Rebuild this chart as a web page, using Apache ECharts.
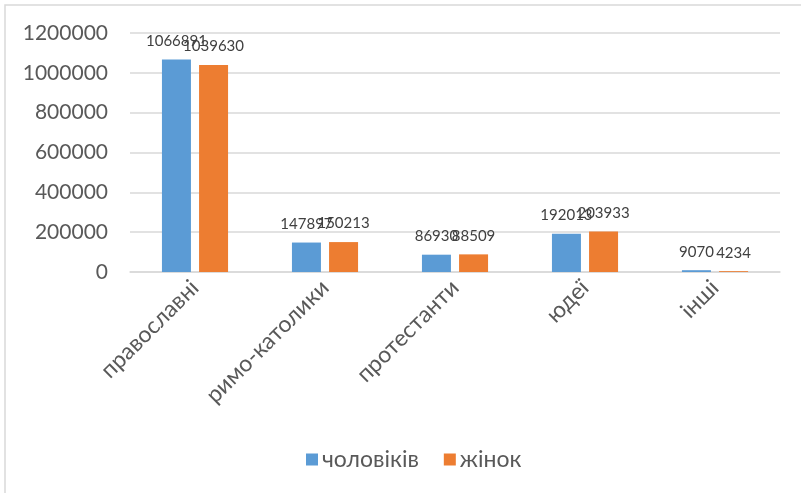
<!DOCTYPE html>
<html>
<head>
<meta charset="utf-8">
<script src="https://cdn.jsdelivr.net/npm/echarts@6/dist/echarts.min.js"></script>
<style>html,body{margin:0;padding:0;background:#fff;}#c{width:801px;height:493px;}</style>
</head>
<body>
<div id="c"></div>
<script>
const categories = ['православні', 'римо-католики', 'протестанти', 'юдеї', 'інші'];
const seriesNames = ['чоловіків', 'жінок'];
const men = [1066891, 147897, 86930, 192013, 9070];
const women = [1039630, 150213, 88509, 203933, 4234];
const yTicks = { min: 0, max: 1200000, interval: 200000 };

const chart = echarts.init(document.getElementById('c'), null, { renderer: 'canvas' });
const FONT = 'Lato, "Open Sans", sans-serif';
const labelOpt = {
  show: true, position: 'top', distance: 11,
  color: '#404040', fontSize: 15, fontFamily: FONT
};
chart.setOption({
  animation: false,
  backgroundColor: '#fff',
  graphic: [{
    type: 'rect', shape: { x: 5, y: 5, width: 1000, height: 800 },
    style: { fill: 'none', stroke: '#d9d9d9', lineWidth: 1.5 }, silent: true
  }],
  grid: { left: 130, right: 21, top: 33, height: 239, containLabel: false },
  legend: {
    data: seriesNames, top: 443, left: 301,
    itemWidth: 12, itemHeight: 12, itemGap: 25,
    icon: 'rect',
    textStyle: { color: '#595959', fontSize: 23, fontFamily: FONT, padding: [0, 0, 0, -1] }
  },
  xAxis: {
    type: 'category', data: categories,
    axisLine: { show: true, lineStyle: { color: '#d9d9d9', width: 1.5 } },
    axisTick: { show: false },
    axisLabel: { rotate: 45, margin: 12, color: '#595959', fontSize: 23, fontFamily: FONT, interval: 0 }
  },
  yAxis: {
    type: 'value', min: yTicks.min, max: yTicks.max, interval: yTicks.interval,
    axisLine: { show: false }, axisTick: { show: false },
    splitLine: { lineStyle: { color: '#d9d9d9', width: 1.5 } },
    axisLabel: { margin: 22, color: '#595959', fontSize: 21, fontFamily: FONT,
      formatter: v => String(v) }
  },
  series: [
    { name: seriesNames[0], type: 'bar', data: men, barWidth: 29, barGap: '28%',
      itemStyle: { color: '#5b9bd5' }, label: labelOpt },
    { name: seriesNames[1], type: 'bar', data: women, barWidth: 29, barGap: '28%',
      itemStyle: { color: '#ed7d31' }, label: labelOpt }
  ]
});
</script>
</body>
</html>
